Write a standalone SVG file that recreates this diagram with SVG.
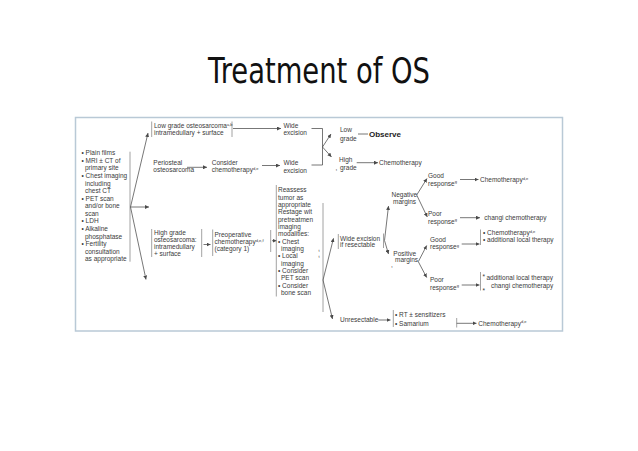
<svg xmlns="http://www.w3.org/2000/svg" width="638" height="451" viewBox="0 0 638 451">
<style>
.t{font-family:"Liberation Sans",Arial,sans-serif;font-size:6.5px;fill:#3a3a3a}
.s{font-size:4px}
.b{font-family:"Liberation Sans",Arial,sans-serif;font-size:8px;font-weight:bold;fill:#222}
.ln{stroke:#4a4a4a;stroke-width:0.75;fill:none}
.ar{stroke:#4a4a4a;stroke-width:0.75;fill:none;marker-end:url(#ah)}
.br{stroke:#8a8a8a;stroke-width:0.8;fill:none}
.title{font-family:"DejaVu Sans",sans-serif;font-size:35.5px;fill:#111}
</style>
<defs>
<marker id="ah" markerUnits="userSpaceOnUse" markerWidth="4" markerHeight="4" refX="4" refY="2" orient="auto">
<path d="M0,0 L4,2 L0,4 z" fill="#4a4a4a"/>
</marker>
</defs>
<rect width="638" height="451" fill="#fff"/>
<text class="title" x="208" y="82.7" textLength="222" lengthAdjust="spacingAndGlyphs">Treatment of OS</text>
<rect x="75.5" y="117.5" width="487" height="213.5" fill="#fff" stroke="#b9c9d6" stroke-width="1.5"/>

<g id="connectors">
<line class="br" x1="130" y1="151.7" x2="130" y2="261.7"/>
<line class="ar" x1="130.5" y1="207" x2="148" y2="133"/>
<line class="ar" x1="130.5" y1="207" x2="149" y2="207"/>
<line class="ar" x1="130.5" y1="207" x2="146" y2="279.5"/>
<line class="ar" x1="233" y1="128.5" x2="281" y2="128.5"/>
<line class="ar" x1="187" y1="167.3" x2="207" y2="167.3"/>
<line class="ar" x1="262" y1="165.5" x2="280" y2="165.5"/>
<polyline class="ln" points="311.5,128.5 322.5,128.5 322.5,165 311.5,165"/>
<line class="ar" x1="322.5" y1="147" x2="331" y2="134"/>
<line class="ar" x1="322.5" y1="147" x2="331.5" y2="157"/>
<line class="ln" x1="358" y1="134" x2="368" y2="134"/>
<line class="ar" x1="356.7" y1="162.7" x2="378" y2="162.7"/>
<line class="ar" x1="203.5" y1="244.5" x2="210.5" y2="244.5"/>
<line class="ar" x1="272" y1="240.7" x2="276.5" y2="240.7"/>
<line class="br" x1="323" y1="203" x2="323" y2="312"/>
<line class="ar" x1="323" y1="280" x2="333.5" y2="238.3"/>
<line class="ar" x1="323" y1="280" x2="332.5" y2="319"/>
<line class="ar" x1="384.5" y1="240.5" x2="388.5" y2="206"/>
<line class="ar" x1="384.5" y1="240.5" x2="388.5" y2="254"/>
<line class="ar" x1="416.7" y1="195" x2="427" y2="178.5"/>
<line class="ar" x1="416.7" y1="195" x2="427.3" y2="217"/>
<line class="ar" x1="460" y1="179.5" x2="478.5" y2="179.5"/>
<line class="ar" x1="460" y1="217.7" x2="480" y2="217.7"/>
<line class="ar" x1="418.3" y1="261.7" x2="426.7" y2="245.5"/>
<line class="ar" x1="418.3" y1="261.7" x2="426.7" y2="277.5"/>
<line class="ar" x1="461.7" y1="244" x2="479.5" y2="244"/>
<line class="ar" x1="461.7" y1="285" x2="479.5" y2="285"/>
<line class="ar" x1="378.3" y1="320" x2="390.5" y2="320"/>
<line class="br" x1="456.7" y1="318" x2="456.7" y2="327.5"/>
<line class="ar" x1="456.7" y1="323.3" x2="476.5" y2="323.3"/>
</g>

<g id="workup">
<text class="t" x="81.5" y="155.3">• Plain films</text>
<text class="t" x="81.5" y="162.9">• MRI ± CT of</text>
<text class="t" x="85" y="170.4">primary site</text>
<text class="t" x="81.5" y="178">• Chest imaging</text>
<text class="t" x="85" y="185.6">including</text>
<text class="t" x="85" y="193.1">chest CT</text>
<text class="t" x="81.5" y="200.7">• PET scan</text>
<text class="t" x="85" y="208.2">and/or bone</text>
<text class="t" x="85" y="215.8">scan</text>
<text class="t" x="81.5" y="223.3">• LDH</text>
<text class="t" x="81.5" y="230.9">• Alkaline</text>
<text class="t" x="85" y="238.5">phosphatase</text>
<text class="t" x="81.5" y="246">• Fertility</text>
<text class="t" x="85" y="253.6">consultation</text>
<text class="t" x="85" y="261.1">as appropriate</text>
</g>

<g id="lowgrade">
<line class="br" x1="151.7" y1="121.5" x2="151.7" y2="137"/>
<line class="br" x1="232" y1="121.5" x2="232" y2="137"/>
<text class="t" x="154" y="128">Low grade osteosarcoma<tspan class="s" dy="-2.2">a,b</tspan></text>
<text class="t" x="154" y="135">intramedullary + surface</text>
</g>

<g id="wide1">
<text class="t" x="283.5" y="128">Wide</text>
<text class="t" x="283.5" y="135">excision</text>
</g>

<g id="periosteal">
<text class="t" x="153.3" y="165">Periosteal</text>
<text class="t" x="153.3" y="172.3">osteosarcoma</text>
</g>

<g id="consider">
<text class="t" x="211.7" y="165">Consider</text>
<text class="t" x="211.7" y="172.3">chemotherapy<tspan class="s" dy="-2.2">d,e</tspan></text>
</g>

<g id="wide2">
<text class="t" x="283.5" y="165">Wide</text>
<text class="t" x="283.5" y="172.5">excision</text>
</g>

<g id="lowgrade-out">
<text class="t" x="340" y="132.3">Low</text>
<text class="t" x="340" y="140.6">grade</text>
<text class="b" x="369" y="137">Observe</text>
</g>

<g id="highgrade-out">
<text class="t" x="339" y="161.6">High</text>
<text class="t" x="335.5" y="169.6">,</text>
<text class="t" x="340" y="169.6">grade</text>
<text class="t" x="379" y="165">Chemotherapy</text>
</g>

<g id="highgrade">
<line class="br" x1="151.7" y1="229" x2="151.7" y2="257"/>
<line class="br" x1="201.7" y1="229" x2="201.7" y2="257"/>
<text class="t" x="154" y="235">High grade</text>
<text class="t" x="154" y="242.3">osteosarcoma:</text>
<text class="t" x="154" y="249">intramedullary</text>
<text class="t" x="154" y="255.6">+ surface</text>
</g>

<g id="preop">
<line class="br" x1="212.7" y1="229.5" x2="212.7" y2="256"/>
<line class="br" x1="270.7" y1="230" x2="270.7" y2="252"/>
<text class="t" x="214.5" y="237.3">Preoperative</text>
<text class="t" x="214.5" y="244">chemotherapy<tspan class="s" dy="-2.2">d,e,f</tspan></text>
<text class="t" x="214.5" y="250.6">(category 1)</text>
</g>

<g id="reassess">
<line class="br" x1="276.3" y1="185" x2="276.3" y2="296.5"/>
<text class="t" x="278" y="192.3">Reassess</text>
<text class="t" x="278" y="199.6">tumor as</text>
<text class="t" x="278" y="207">appropriate</text>
<text class="t" x="278" y="214.3">Restage wit</text>
<text class="t" x="278" y="221.6">pretreatmen</text>
<text class="t" x="278" y="229">imaging</text>
<text class="t" x="278" y="236.3">modalities:</text>
<text class="t" x="278" y="243.6">• Chest</text>
<text class="t" x="281" y="251">imaging</text>
<text class="t" x="278" y="258.3">• Local</text>
<text class="t" x="281" y="265.6">imaging</text>
<text class="t" x="278" y="273">• Consider</text>
<text class="t" x="281" y="280.3">PET scan</text>
<text class="t" x="278" y="287.6">• Consider</text>
<text class="t" x="281" y="295">bone scan</text>
<text class="t s" x="318.5" y="252">t</text>
<text class="t s" x="318.5" y="258">t</text>
</g>

<g id="wideexcision">
<line class="br" x1="338.3" y1="234" x2="338.3" y2="249"/>
<line class="br" x1="383.5" y1="233.5" x2="383.5" y2="248"/>
<text class="t" x="340" y="240.6">Wide excision</text>
<text class="t" x="340" y="247.3">if resectable</text>
</g>

<g id="negative">
<text class="t" x="391.5" y="197.3">Negative</text>
<text class="t" x="393" y="204">margins</text>
</g>

<g id="neg-good">
<text class="t" x="428" y="178.3">Good</text>
<text class="t" x="428" y="185.6">response<tspan class="s" dy="-2.2">g</tspan></text>
<text class="t" x="480" y="182">Chemotherapy<tspan class="s" dy="-2.2">d,e</tspan></text>
</g>

<g id="neg-poor">
<text class="t" x="428" y="215.6">Poor</text>
<text class="t" x="428" y="223.6">response<tspan class="s" dy="-2.2">g</tspan></text>
<text class="t" x="484.3" y="220">changi chemotherapy</text>
</g>

<g id="positive">
<text class="t" x="393.3" y="255.6">Positive</text>
<text class="t" x="395" y="261.6">margins</text>
<text class="t" x="391" y="266.5">,</text>
</g>

<g id="pos-good">
<text class="t" x="430" y="242.3">Good</text>
<text class="t" x="430" y="249">response<tspan class="s" dy="-2.2">g</tspan></text>
<line class="br" x1="480.5" y1="229.5" x2="480.5" y2="245"/>
<text class="t" x="483" y="235">• Chemotherapy<tspan class="s" dy="-2.2">d,e</tspan></text>
<text class="t" x="483" y="242.3">• additional local therapy</text>
</g>

<g id="pos-poor">
<text class="t" x="430" y="282.3">Poor</text>
<text class="t" x="430" y="289.6">response<tspan class="s" dy="-2.2">g</tspan></text>
<line class="br" x1="480.5" y1="272" x2="480.5" y2="290.5"/>
<text class="t" x="482.5" y="279">*</text>
<text class="t" x="486.5" y="279.5">additional local therapy</text>
<text class="t" x="491" y="288.3">changi chemotherapy</text>
<text class="t" x="482.5" y="292.5">*</text>
</g>

<g id="unresectable">
<text class="t" x="340" y="322.3">Unresectable</text>
<line class="br" x1="393.3" y1="310" x2="393.3" y2="327"/>
<text class="t" x="395" y="316.6">• RT ± sensitizers</text>
<text class="t" x="395" y="325.6">• Samarium</text>
<text class="t" x="478.3" y="325.6">Chemotherapy<tspan class="s" dy="-2.2">d,e</tspan></text>
</g>
</svg>
